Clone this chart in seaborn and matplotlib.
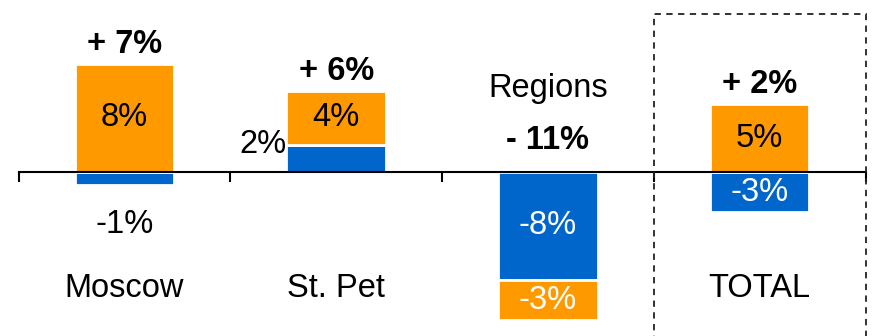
import numpy as np
import pandas as pd
import matplotlib
matplotlib.use("Agg")
import matplotlib.pyplot as plt
from matplotlib.patches import Rectangle
import seaborn as sns

# ---- data ----
categories = ["Moscow", "St. Pet", "Regions", "TOTAL"]
blue_vals = [-1, 2, -8, -3]
orange_vals = [8, 4, -3, 5]
total_labels = ["+ 7%", "+ 6%", "- 11%", "+ 2%"]

BLUE = "#0066CC"
ORANGE = "#FF9900"

sns.set_style("white")
plt.rcParams["font.family"] = ["Liberation Sans", "DejaVu Sans"]
FS = 23.5

fig = plt.figure(figsize=(8.74, 3.36), dpi=100)
ax = fig.add_axes([0, 0, 1, 1])

blue = np.array(blue_vals, dtype=float)
orange = np.array(orange_vals, dtype=float)
orange_bottom = np.where(np.sign(orange) == np.sign(blue), blue, 0.0)

df = pd.DataFrame({"cat": categories, "blue": blue, "orange": orange})
W = 0.47
sns.barplot(data=df, x="cat", y="blue", color=BLUE, width=W, ax=ax,
            edgecolor="white", linewidth=2.0, saturation=1, errorbar=None)
sns.barplot(data=df, x="cat", y="orange", color=ORANGE, width=W, ax=ax,
            edgecolor="white", linewidth=2.0, saturation=1, errorbar=None,
            bottom=orange_bottom)

# limits mapped to the reference pixel geometry
ax.set_xlim(-0.588, 3.540)
ax.set_ylim(-12.15, 12.74)

# axis line with ticks between groups
for s in ["left", "right", "top"]:
    ax.spines[s].set_visible(False)
ax.spines["bottom"].set_position(("data", 0))
ax.spines["bottom"].set_bounds(-0.5, len(categories) - 0.5)
ax.spines["bottom"].set_linewidth(1.5)
ax.spines["bottom"].set_color("black")
ax.set_xticks(np.arange(len(categories) + 1) - 0.5)
ax.set_xticklabels([])
ax.tick_params(axis="x", direction="out", length=7.5, width=1.5, color="black", bottom=True)
ax.set_yticks([])
ax.set_xlabel("")
ax.set_ylabel("")

# segment labels
for i in range(len(categories)):
    b, o = blue[i], orange[i]
    # blue segment
    if abs(b) >= 3:
        ax.text(i, b / 2, f"{int(b)}%", ha="center", va="center", fontsize=FS, color="white")
    elif b < 0:
        ax.text(i, b - 2.9, f"{int(b)}%", ha="center", va="center", fontsize=FS, color="black")
    else:
        ax.text(i - W / 2, b, f"{int(b)}%", ha="right", va="center", fontsize=FS, color="black")
    # orange segment
    ob = orange_bottom[i]
    txtc = "black" if o > 0 else "white"
    ax.text(i, ob + o / 2, f"{int(o)}%", ha="center", va="center", fontsize=FS, color=txtc)

    # total labels and category names
    pos_top = max(ob + o, b, 0)
    if pos_top > 0:
        ax.text(i, pos_top + 1.45, total_labels[i], ha="center", va="center",
                fontsize=FS, fontweight="bold", color="black")
        ax.text(i, -8.6, categories[i], ha="center", va="center", fontsize=FS, color="black")
    else:
        ax.text(i, 2.35, total_labels[i], ha="center", va="center",
                fontsize=FS, fontweight="bold", color="black")
        ax.text(i, 6.2, categories[i], ha="center", va="center", fontsize=FS, color="black")

# dashed box around TOTAL
n = len(categories)
box = Rectangle((n - 1.5, -14), 1.0, 14 + 11.7, fill=False, edgecolor="#222222",
                linewidth=1.3, linestyle=(0, (3.5, 3)), zorder=5)
ax.add_patch(box)

fig.savefig("out.png", dpi=100)
